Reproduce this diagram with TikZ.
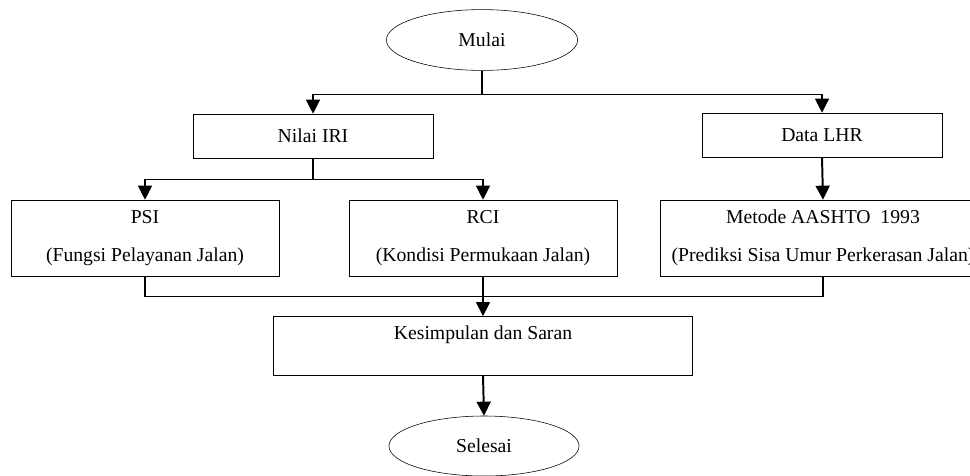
\documentclass[tikz,border=0pt]{standalone}
\usepackage{fontspec}
\setmainfont{Liberation Serif}
\usetikzlibrary{shapes.geometric,arrows.meta}

\begin{document}
\begin{tikzpicture}[x=0.025cm,y=-0.025cm,
    txt/.style={font=\fontsize{14}{27}\selectfont},
    box/.style={draw,txt,align=center,inner sep=0pt},
    oval/.style={draw,ellipse,txt,inner sep=0pt},
    link/.style={line width=0.8pt},
    arr/.style={link,-{Triangle[length=10pt,width=10pt]}},
    heavy/.style={line width=1.4pt}]
    \useasboundingbox (0,0) rectangle (970,475);
    % Start
    \node[oval,minimum width=4.78cm,minimum height=1.52cm] (mulai) at (482,40) {Mulai};
    % Input data
    \node[box,minimum width=6cm,minimum height=1.1cm] (iri) at (313,136) {Nilai IRI};
    \node[box,minimum width=6cm,minimum height=1.1cm] (lhr) at (822,135) {Data LHR};
    % Analysis
    \node[box,minimum width=6.7cm,minimum height=1.9cm] (psi) at (145,238)
      {PSI\\(Fungsi Pelayanan Jalan)};
    \node[box,minimum width=6.7cm,minimum height=1.9cm] (rci) at (483,238)
      {RCI\\(Kondisi Permukaan Jalan)};
    \node[box,minimum width=8.15cm,minimum height=1.9cm] (aashto) at (823,238)
      {Metode AASHTO\ \ 1993\\(Prediksi Sisa Umur Perkerasan Jalan)};
    % Conclusion and end
    \node[box,minimum width=10.48cm,minimum height=1.48cm] (kes) at (483,346)
      {Kesimpulan dan Saran\\[-8pt]\mbox{}};
    \node[oval,minimum width=4.75cm,minimum height=1.5cm] (selesai) at (484,446) {Selesai};
    % Connectors
    \draw[arr] (mulai.south) -- ++(0,24) -| (iri.north);
    \draw[arr] (mulai.south) -- ++(0,24) -| (lhr.north);
    \draw[arr] (iri.south) -- ++(0,21) -| (psi.north);
    \draw[arr] (iri.south) -- ++(0,21) -| (rci.north);
    \draw[arr,heavy] (lhr.south) -- (aashto.north);
    \draw[link] (psi.south) -- ++(0,20) -| (aashto.south);
    \draw[arr] (rci.south) -- (kes.north);
    \draw[arr,heavy] (kes.south) -- (selesai.north);
\end{tikzpicture}
\end{document}
